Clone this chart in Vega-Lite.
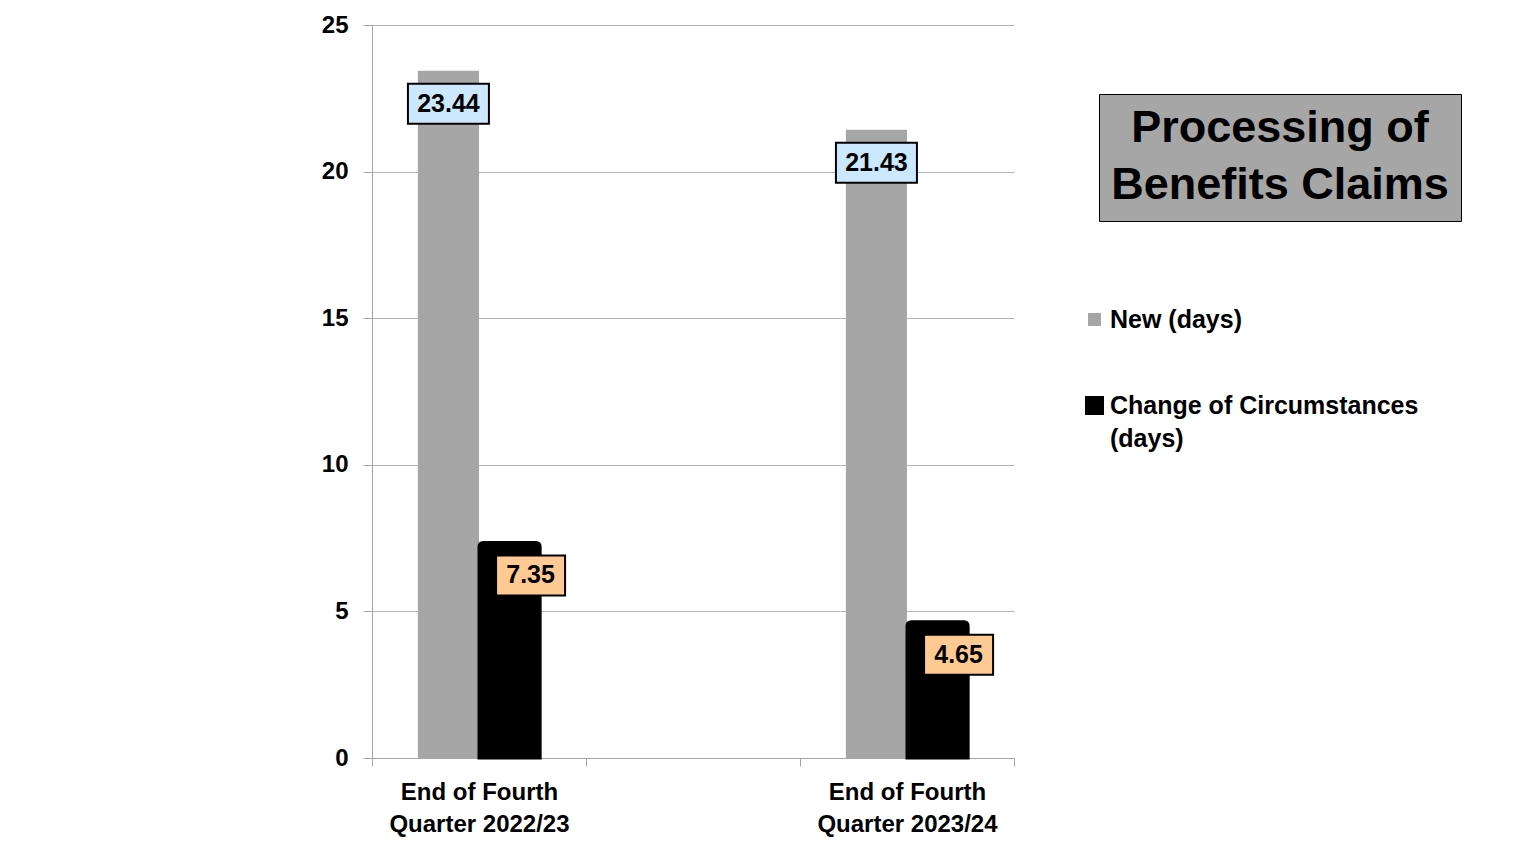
{
  "$schema": "https://vega.github.io/schema/vega-lite/v6.json",
  "width": 642,
  "height": 733,
  "autosize": {"type": "none"},
  "padding": {"left": 372, "top": 25, "right": 499, "bottom": 94},
  "background": "white",
  "config": {"view": {"stroke": null}, "font": "Liberation Sans"},
  "data": {
    "values": [
      {"period": "End of Fourth Quarter 2022/23", "series": "New (days)", "days": 23.44, "label": "23.44"},
      {"period": "End of Fourth Quarter 2022/23", "series": "Change of Circumstances (days)", "days": 7.35, "label": "7.35"},
      {"period": "End of Fourth Quarter 2023/24", "series": "New (days)", "days": 21.43, "label": "21.43"},
      {"period": "End of Fourth Quarter 2023/24", "series": "Change of Circumstances (days)", "days": 4.65, "label": "4.65"}
    ]
  },
  "encoding": {
    "x": {
      "field": "period",
      "type": "nominal",
      "sort": null,
      "scale": {"domain": ["End of Fourth Quarter 2022/23", " ", "End of Fourth Quarter 2023/24"], "paddingInner": 0, "paddingOuter": 0},
      "axis": {
        "title": null,
        "tickBand": "extent",
        "tickSize": 8,
        "tickColor": "#a6a6a6",
        "domainColor": "#a6a6a6",
        "labelFontSize": 24,
        "labelFontWeight": "bold",
        "labelColor": "black",
        "labelLineHeight": 32,
        "labelPadding": 14,
        "labelAngle": 0,
        "labelBaseline": "top",
        "labelLimit": 400,
        "labelOverlap": false,
        "labelExpr": "isValid(datum.value) && datum.value != ' ' ? ['End of Fourth', replace(datum.value, 'End of Fourth ', '')] : ''"
      }
    },
    "xOffset": {
      "field": "series",
      "type": "nominal",
      "scale": {"domain": ["New (days)", "Change of Circumstances (days)"], "paddingInner": 0, "paddingOuter": 0.75}
    },
    "y": {
      "field": "days",
      "type": "quantitative",
      "scale": {"domain": [0, 25]},
      "axis": {
        "title": null,
        "values": [0, 5, 10, 15, 20, 25],
        "grid": true,
        "gridColor": "#b3b3b3",
        "domainColor": "#a6a6a6",
        "tickColor": "#a6a6a6",
        "tickSize": 9,
        "labelFontSize": 24,
        "labelFontWeight": "bold",
        "labelColor": "black",
        "labelPadding": 15
      }
    }
  },
  "layer": [
    {
      "transform": [{"filter": "datum.series == 'New (days)'"}],
      "mark": {"type": "bar"},
      "encoding": {
        "color": {
          "field": "series",
          "type": "nominal",
          "scale": {"domain": ["New (days)", "Change of Circumstances (days)"], "range": ["#a6a6a6", "#000000"]},
          "legend": {
            "title": null,
            "orient": "none",
            "legendX": 710,
            "legendY": 282,
            "padding": 0,
            "symbolType": "square",
            "symbolSize": 361,
            "symbolStrokeWidth": 0,
            "labelFontSize": 25,
            "labelFontWeight": "bold",
            "labelColor": "black",
            "labelLimit": 600,
            "labelOffset": 3,
            "rowPadding": 60,
            "labelExpr": "datum.label == 'Change of Circumstances (days)' ? ['Change of Circumstances', '(days)'] : datum.label",
            "encode": {
              "symbols": {"update": {"size": {"signal": "datum.value == 'New (days)' ? 169 : 361"}}},
              "labels": {"update": {"lineHeight": {"value": 33}}}
            }
          }
        }
      }
    },
    {
      "transform": [{"filter": "datum.series != 'New (days)'"}],
      "mark": {"type": "bar", "cornerRadiusTopLeft": 4, "cornerRadiusTopRight": 4, "stroke": "black", "strokeWidth": 3},
      "encoding": {
        "color": {
          "field": "series",
          "type": "nominal",
          "scale": {"domain": ["New (days)", "Change of Circumstances (days)"], "range": ["#a6a6a6", "#000000"]},
          "legend": {
            "title": null,
            "orient": "none",
            "legendX": 710,
            "legendY": 282,
            "padding": 0,
            "symbolType": "square",
            "symbolSize": 361,
            "symbolStrokeWidth": 0,
            "labelFontSize": 25,
            "labelFontWeight": "bold",
            "labelColor": "black",
            "labelLimit": 600,
            "labelOffset": 3,
            "rowPadding": 60,
            "labelExpr": "datum.label == 'Change of Circumstances (days)' ? ['Change of Circumstances', '(days)'] : datum.label",
            "encode": {
              "symbols": {"update": {"size": {"signal": "datum.value == 'New (days)' ? 169 : 361"}}},
              "labels": {"update": {"lineHeight": {"value": 33}}}
            }
          }
        }
      }
    },
    {
      "transform": [{"filter": "datum.series == 'New (days)'"}],
      "mark": {"type": "point", "shape": "M-4.05,-2H4.05V2H-4.05Z", "size": 400, "filled": true, "opacity": 1, "strokeWidth": 2, "yOffset": 33},
      "encoding": {"color": {"value": "#cce8ff"}, "stroke": {"value": "black"}}
    },
    {
      "transform": [{"filter": "datum.series != 'New (days)'"}],
      "mark": {"type": "point", "shape": "M-1.35,-2H5.55V2H-1.35Z", "size": 400, "filled": true, "opacity": 1, "strokeWidth": 2, "yOffset": 33},
      "encoding": {"color": {"value": "#ffc993"}, "stroke": {"value": "black"}}
    },
    {
      "transform": [{"filter": "datum.series == 'New (days)'"}],
      "mark": {"type": "text", "fontSize": 25, "fontWeight": "bold", "align": "center", "baseline": "middle", "yOffset": 33, "color": "black"},
      "encoding": {"text": {"field": "label"}}
    },
    {
      "transform": [{"filter": "datum.series != 'New (days)'"}],
      "mark": {"type": "text", "fontSize": 25, "fontWeight": "bold", "align": "center", "baseline": "middle", "dx": 21, "yOffset": 33, "color": "black"},
      "encoding": {
        "text": {"field": "label"},
        "opacity": {
          "datum": "title",
          "type": "nominal",
          "scale": {"range": [1, 1]},
          "legend": {
            "title": ["Processing of", "Benefits Claims"],
            "orient": "none",
            "legendX": 727,
            "legendY": 69,
            "fillColor": "#a6a6a6",
            "strokeColor": "black",
            "padding": 12,
            "titleFont": "Liberation Sans",
            "titleFontSize": 45,
            "titleFontWeight": "bold",
            "titleColor": "black",
            "titleLineHeight": 57,
            "titleAlign": "center",
            "titleAnchor": "middle",
            "titleLimit": 1000,
            "titlePadding": 0,
            "symbolSize": 0,
            "symbolOpacity": 0,
            "symbolStrokeWidth": 0,
            "labelExpr": "''",
            "labelFontSize": 1,
            "rowPadding": 0,
            "encode": {"legend": {"update": {"strokeWidth": {"value": 2}}}}
          }
        }
      }
    }
  ]
}
